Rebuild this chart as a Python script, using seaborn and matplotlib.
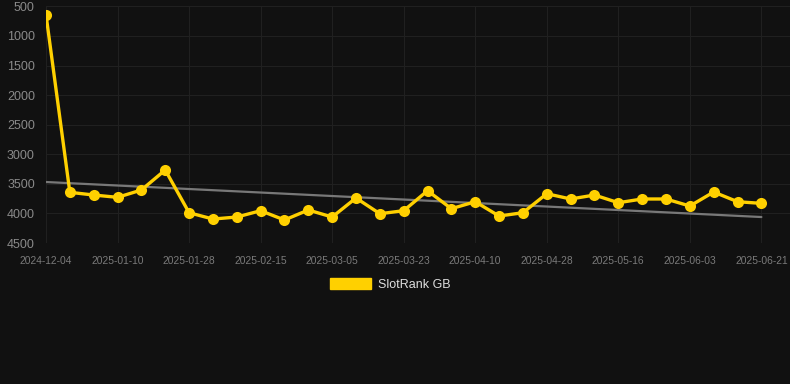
import numpy as np
import pandas as pd
import matplotlib
matplotlib.use('Agg')
import matplotlib.pyplot as plt
import matplotlib.patches as mpatches
import seaborn as sns

# rank values (lower is better, axis inverted)
ranks = [640, 3643, 3689, 3728, 3604, 3266, 3988, 4095, 4061, 3954,
         4111, 3942, 4061, 3739, 4005, 3954, 3616, 3920, 3802, 4044,
         3988, 3667, 3756, 3689, 3819, 3756, 3756, 3875, 3638, 3802,
         3830]
tick_labels = ['2024-12-04', '2025-01-10', '2025-01-28', '2025-02-15', '2025-03-05',
               '2025-03-23', '2025-04-10', '2025-04-28', '2025-05-16', '2025-06-03',
               '2025-06-21']
y_ticks = [500, 1000, 1500, 2000, 2500, 3000, 3500, 4000, 4500]
# trend line ends as shown on the chart
trend_ends = [3469, 4061]

bg = '#111111'
gold = '#FFD000'

df = pd.DataFrame({'idx': np.arange(len(ranks)), 'rank': ranks})
trend_df = pd.DataFrame({'idx': [0, len(ranks) - 1], 'trend': trend_ends})

sns.set_style('dark')
plt.rcParams['font.family'] = ['Liberation Sans', 'DejaVu Sans']

fig = plt.figure(figsize=(7.9, 3.84), dpi=100, facecolor=bg)
ax = fig.add_axes([46/790, 141/384, 1 - 46/790, (243 - 6.4)/384])
ax.set_facecolor(bg)

sns.lineplot(data=trend_df, x='idx', y='trend', ax=ax, color='#787878', linewidth=1.6)
sns.lineplot(data=df, x='idx', y='rank', ax=ax, color=gold, linewidth=2.4,
             marker='o', markersize=8, markeredgewidth=0, markeredgecolor=gold)

ax.set_ylim(4500, 500)
ax.set_xlim(0, 31.2)
ax.set_yticks(y_ticks)
ax.set_yticklabels([str(v) for v in y_ticks], fontsize=9, color='#8a8a8a')
ax.set_xticks(df['idx'][::3])
ax.set_xticklabels(tick_labels, fontsize=7.4, color='#7a7a7a')
ax.tick_params(axis='x', length=0, pad=9)
ax.tick_params(axis='y', length=0, pad=8)
ax.grid(True, color='#202020', linewidth=0.8)
ax.set_xlabel('')
ax.set_ylabel('')
for s in ax.spines.values():
    s.set_visible(False)

handle = mpatches.Patch(color=gold, label='SlotRank GB')
leg = fig.legend(handles=[handle], loc='center', bbox_to_anchor=(0.494, 0.26),
                 frameon=False, fontsize=9, handlelength=3.3, handleheight=1.0,
                 handletextpad=0.5, labelcolor='#dddddd')

fig.savefig('out.png', dpi=100, facecolor=bg)
